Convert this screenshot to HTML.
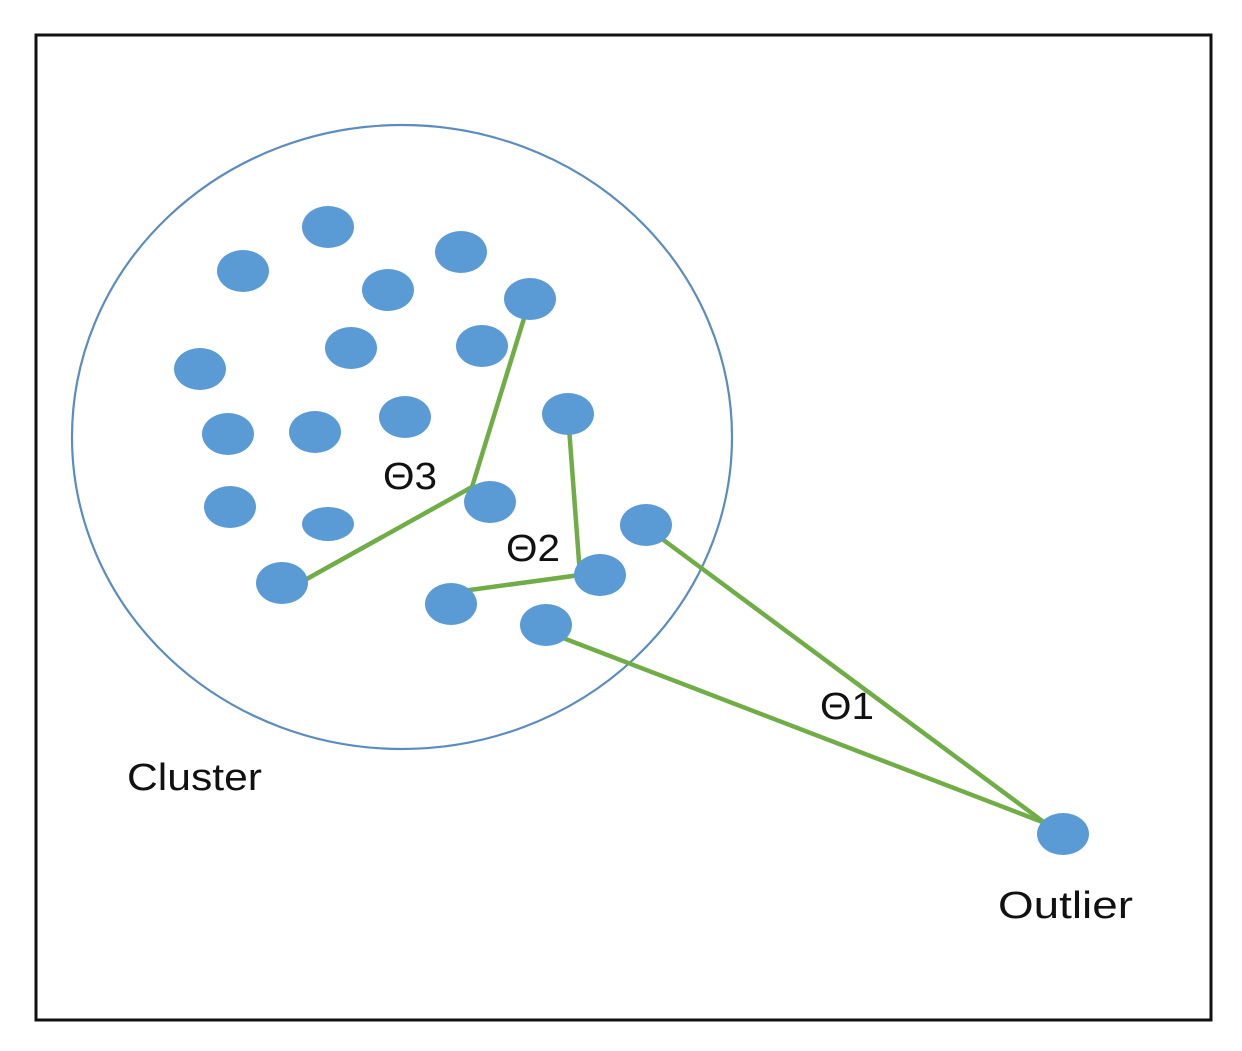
<!DOCTYPE html>
<html><head><meta charset="utf-8"><style>
html,body{margin:0;padding:0;background:#fff;}
svg{display:block;}
text{font-family:"Liberation Sans",sans-serif;fill:#111;}
</style></head><body>
<svg width="1242" height="1051" viewBox="0 0 1242 1051" xmlns="http://www.w3.org/2000/svg">
<rect x="0" y="0" width="1242" height="1051" fill="#fff"/>
<rect x="36" y="35" width="1175" height="985" fill="none" stroke="#111" stroke-width="3"/>
<ellipse cx="402" cy="437" rx="330" ry="312" fill="none" stroke="#5b8cbf" stroke-width="2.2"/>
<g stroke="#70ad47" stroke-width="4.5" fill="none" stroke-linecap="round">
<polyline points="530,299 472,487 296,585"/>
<polyline points="568,414 580,575 455,592"/>
<line x1="650" y1="530" x2="1045" y2="823"/>
<line x1="550" y1="633" x2="1045" y2="823"/>
</g>
<g fill="#5b9bd5">
<ellipse cx="328" cy="227" rx="26" ry="21"/>
<ellipse cx="243" cy="271" rx="26" ry="21"/>
<ellipse cx="461" cy="252" rx="26" ry="21"/>
<ellipse cx="388" cy="290" rx="26" ry="21"/>
<ellipse cx="530" cy="299" rx="26" ry="21"/>
<ellipse cx="351" cy="348" rx="26" ry="21"/>
<ellipse cx="482" cy="346" rx="26" ry="21"/>
<ellipse cx="200" cy="369" rx="26" ry="21"/>
<ellipse cx="405" cy="417" rx="26" ry="21"/>
<ellipse cx="568" cy="414" rx="26" ry="21"/>
<ellipse cx="228" cy="434" rx="26" ry="21"/>
<ellipse cx="315" cy="432" rx="26" ry="21"/>
<ellipse cx="490" cy="502" rx="26" ry="21"/>
<ellipse cx="230" cy="507" rx="26" ry="21"/>
<ellipse cx="328" cy="524" rx="26" ry="17"/>
<ellipse cx="646" cy="525" rx="26" ry="21"/>
<ellipse cx="282" cy="583" rx="26" ry="21"/>
<ellipse cx="600" cy="575" rx="26" ry="21"/>
<ellipse cx="451" cy="604" rx="26" ry="21"/>
<ellipse cx="546" cy="625" rx="26" ry="21"/>
<ellipse cx="1063" cy="834" rx="26" ry="21"/>
</g>
<g font-size="38">
<text x="383" y="489" textLength="54" lengthAdjust="spacingAndGlyphs">Θ3</text>
<text x="506" y="561" textLength="54" lengthAdjust="spacingAndGlyphs">Θ2</text>
<text x="820" y="719" textLength="54" lengthAdjust="spacingAndGlyphs">Θ1</text>
<text x="127" y="790" textLength="135" lengthAdjust="spacingAndGlyphs">Cluster</text>
<text x="998" y="918" textLength="135" lengthAdjust="spacingAndGlyphs">Outlier</text>
</g>
</svg>
</body></html>
